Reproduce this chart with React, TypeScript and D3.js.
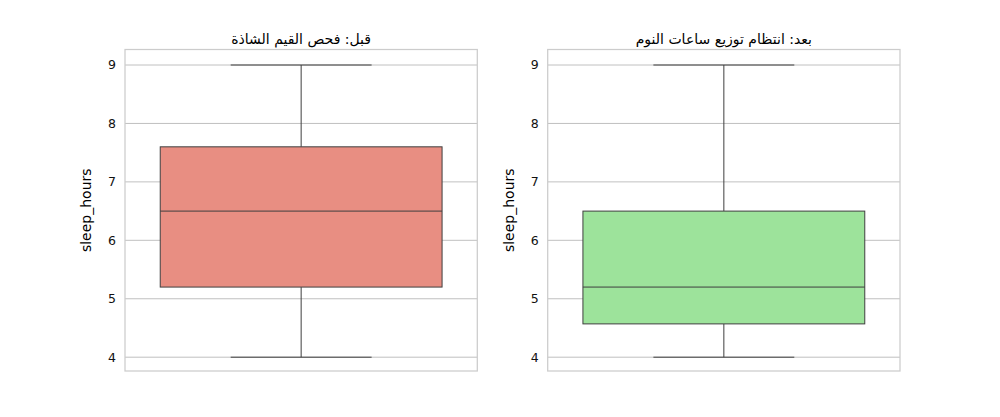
import React from "react";
import * as d3 from "d3";

const panelTitles = ["قبل: فحص القيم الشاذة", "بعد: انتظام توزيع ساعات النوم"];
const whiskerLow = [4, 4];
const q1 = [5.2, 4.57];
const medians = [6.5, 5.2];
const q3 = [7.6, 6.5];
const whiskerHigh = [9, 9];
const fills = ["#e88e82", "#9de39b"];
const yTicks = [4, 5, 6, 7, 8, 9];
const yLabel = "sleep_hours";

const W = 1000;
const H = 417;
const top = 49.5;
const bottom = 371;
const axW = 352.3;
const lefts = [125, 547.7];

export default function App() {
  const y = d3.scaleLinear().domain([4, 9]).range([357.2, 65]);
  const font = "DejaVu Sans, sans-serif";
  return (
    <svg width={W} height={H} style={{ position: "absolute", left: 0, top: 0, background: "#fff" }}>
      {panelTitles.map((t, i) => {
        const x = d3.scaleLinear().domain([-0.5, 0.5]).range([lefts[i], lefts[i] + axW]);
        const edge = "#3f3f3f";
        return (
          <g key={i}>
            {yTicks.map((v) => (
              <g key={v}>
                <line x1={lefts[i]} x2={lefts[i] + axW} y1={y(v)} y2={y(v)} stroke="#b0b0b0" strokeWidth={0.8} />
                <text x={lefts[i] - 9} y={y(v)} dy="0.35em" textAnchor="end" fontSize={12.5} fontFamily={font} fill="#111">
                  {v}
                </text>
              </g>
            ))}
            <line x1={x(0)} x2={x(0)} y1={y(whiskerHigh[i])} y2={y(q3[i])} stroke={edge} strokeWidth={1} />
            <line x1={x(0)} x2={x(0)} y1={y(q1[i])} y2={y(whiskerLow[i])} stroke={edge} strokeWidth={1} />
            <line x1={x(-0.2)} x2={x(0.2)} y1={y(whiskerHigh[i])} y2={y(whiskerHigh[i])} stroke={edge} strokeWidth={1} />
            <line x1={x(-0.2)} x2={x(0.2)} y1={y(whiskerLow[i])} y2={y(whiskerLow[i])} stroke={edge} strokeWidth={1} />
            <rect
              x={x(-0.4)}
              y={y(q3[i])}
              width={x(0.4) - x(-0.4)}
              height={y(q1[i]) - y(q3[i])}
              fill={fills[i]}
              stroke={edge}
              strokeWidth={1}
            />
            <line x1={x(-0.4)} x2={x(0.4)} y1={y(medians[i])} y2={y(medians[i])} stroke={edge} strokeWidth={1} />
            <rect x={lefts[i]} y={top} width={axW} height={bottom - top} fill="none" stroke="#cccccc" strokeWidth={1.25} />
            <text
              transform={`translate(${lefts[i] - 34},${(top + bottom) / 2}) rotate(-90)`}
              textAnchor="middle"
              fontSize={14}
              fontFamily={font}
              fill="#000"
            >
              {yLabel}
            </text>
            <text x={lefts[i] + axW / 2} y={top - 6} textAnchor="middle" fontSize={14} fontFamily={font} fill="#000">
              {t}
            </text>
          </g>
        );
      })}
    </svg>
  );
}
